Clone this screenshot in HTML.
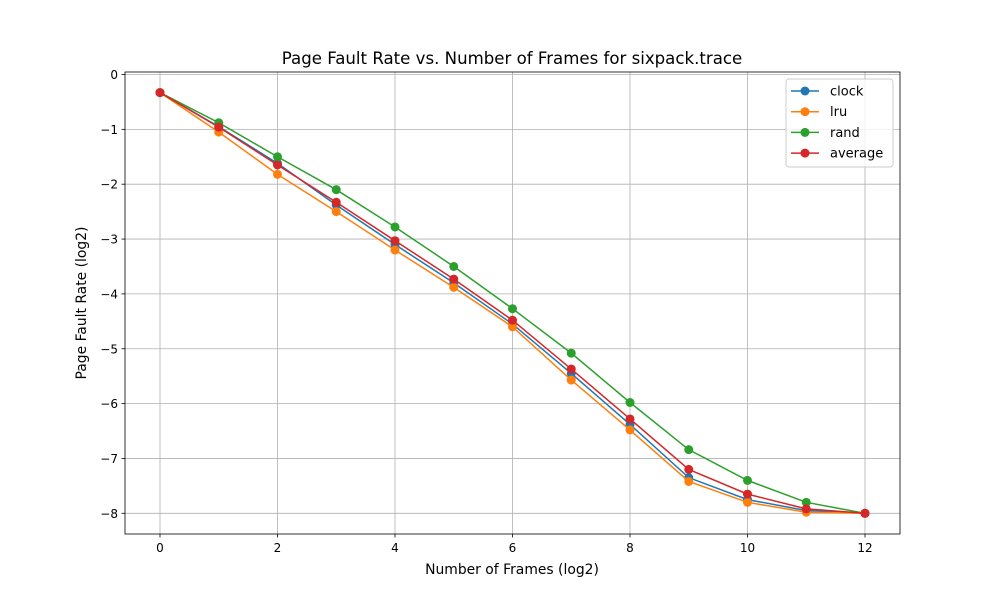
<!DOCTYPE html>
<html><head><meta charset="utf-8"><style>
body{margin:0;background:#fff;font-family:"Liberation Sans","DejaVu Sans",sans-serif}
svg text{font-family:"DejaVu Sans","Liberation Sans",sans-serif}
</style></head><body>
<svg id="chart" width="1000" height="600" xmlns="http://www.w3.org/2000/svg">
<rect width="1000" height="600" fill="#fff"/>
<g id="grid"></g><g id="series"></g><g id="axes"></g>
<text x="512" y="64" font-size="16.6" text-anchor="middle">Page Fault Rate vs. Number of Frames for sixpack.trace</text>
<text x="512" y="574" font-size="13.9" text-anchor="middle">Number of Frames (log2)</text>
<text transform="translate(86,303) rotate(-90)" font-size="13.9" text-anchor="middle">Page Fault Rate (log2)</text>
<g id="legend"></g>
</svg>
<script>
const xs=[0,1,2,3,4,5,6,7,8,9,10,11,12];
const clockVals=[-0.33,-0.95,-1.62,-2.38,-3.1,-3.8,-4.55,-5.45,-6.38,-7.35,-7.75,-7.95,-8];
const lruVals=[-0.33,-1.05,-1.82,-2.5,-3.2,-3.88,-4.6,-5.57,-6.48,-7.42,-7.8,-7.98,-8];
const randVals=[-0.33,-0.88,-1.5,-2.1,-2.78,-3.5,-4.27,-5.08,-5.98,-6.84,-7.4,-7.8,-8];
const avgVals=[-0.33,-0.96,-1.65,-2.33,-3.03,-3.73,-4.48,-5.37,-6.28,-7.2,-7.65,-7.92,-8];
const seriesNames=["clock","lru","rand","average"];
const xTicks=[0,2,4,6,8,10,12];
const yTicks=[0,-1,-2,-3,-4,-5,-6,-7,-8];
const colors=["#1f77b4","#ff7f0e","#2ca02c","#d62728"];
const NS="http://www.w3.org/2000/svg";
const L=125,R=900,T=72,B=534;
const X=v=>160+v*58.75, Y=v=>74.5-v*54.85;
function mk(t,a,p){const e=document.createElementNS(NS,t);for(const k in a)e.setAttribute(k,a[k]);p.appendChild(e);return e;}
const g=document.getElementById('grid'),ax=document.getElementById('axes'),s=document.getElementById('series'),lg=document.getElementById('legend');
xTicks.forEach(v=>{const x=X(v);
 const l=mk('line',{x1:x,x2:x,y1:T,y2:B,stroke:'#b0b0b0','stroke-width':0.8},g);
 
 
 mk('line',{x1:x,x2:x,y1:B,y2:B+3.5,stroke:'#000','stroke-width':0.8},ax);
 const t=mk('text',{x:x,y:B+18,'font-size':12,'text-anchor':'middle'},ax);t.textContent=v;
 
 });
yTicks.forEach(v=>{const y=Y(v);
 const l=mk('line',{x1:L,x2:R,y1:y,y2:y,stroke:'#b0b0b0','stroke-width':0.8},g);
 
 
 mk('line',{x1:L-3.5,x2:L,y1:y,y2:y,stroke:'#000','stroke-width':0.8},ax);
 const t=mk('text',{x:L-7,y:y+4.5,'font-size':12,'text-anchor':'end'},ax);t.textContent=v===0?'0':'\u2212'+Math.abs(v);
 
 });
mk('rect',{x:L,y:T,width:R-L,height:B-T,fill:'none',stroke:'#000','stroke-width':0.8},ax);
[clockVals,lruVals,randVals,avgVals].forEach((vals,i)=>{
 const grp=mk('g',{},s);
 
 
 mk('polyline',{points:vals.map((v,j)=>X(xs[j])+','+Y(v)).join(' '),fill:'none',stroke:colors[i],'stroke-width':1.5},grp);
 vals.forEach((v,j)=>{const c=mk('circle',{cx:X(xs[j]),cy:Y(v),r:4.5,fill:colors[i]},grp);
  
  });
});
mk('rect',{x:786,y:79,width:107,height:88,rx:3,fill:'#fff','fill-opacity':0.8,stroke:'#ccc'},lg);
seriesNames.forEach((n,i)=>{const y=91+i*20.7;
 const e=mk('g',{},lg);
 
 
 mk('line',{x1:791,x2:819,y1:y,y2:y,stroke:colors[i],'stroke-width':1.5},e);
 mk('circle',{cx:805,cy:y,r:4.5,fill:colors[i]},e);
 const t=mk('text',{x:830,y:y+4.5,'font-size':13},e);t.textContent=n;});
</script>
</body></html>
